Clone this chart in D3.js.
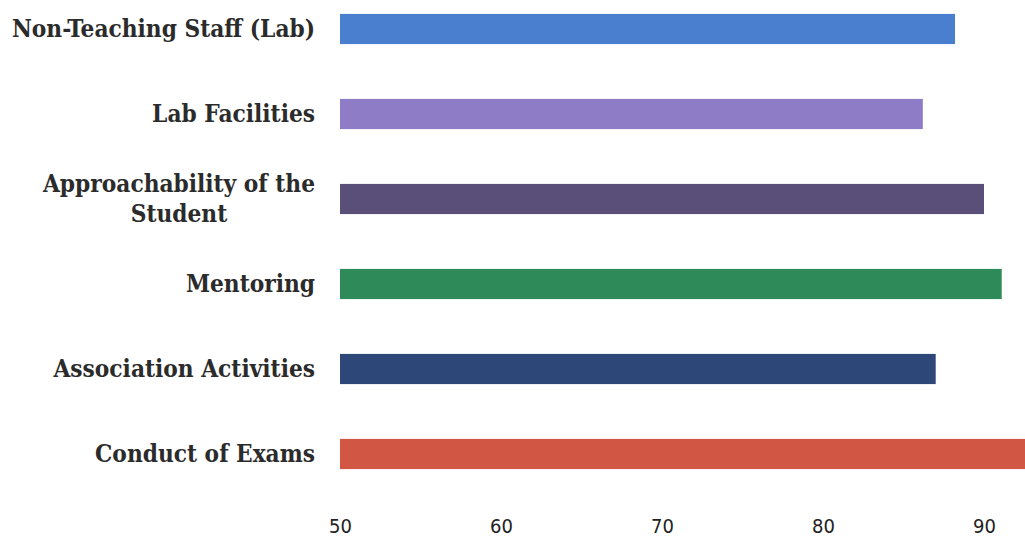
<!DOCTYPE html>
<html>
<head>
<meta charset="utf-8">
<script src="https://cdn.jsdelivr.net/npm/d3@7/dist/d3.min.js"></script>
<style>
  html, body { margin: 0; padding: 0; background: #ffffff; }
  svg { display: block; }
</style>
</head>
<body>
<svg id="chart" width="1025" height="538"></svg>
<script>
const categories = [
  "Non-Teaching Staff (Lab)",
  "Lab Facilities",
  "Approachability of the Student",
  "Mentoring",
  "Association Activities",
  "Conduct of Exams"
];
const labelLines = [
  ["Non-Teaching Staff (Lab)"],
  ["Lab Facilities"],
  ["Approachability of the", "Student"],
  ["Mentoring"],
  ["Association Activities"],
  ["Conduct of Exams"]
];
const values = [88.2, 86.2, 90.0, 91.1, 87.0, 94.0];
const colors = ["#4a7fcf", "#8e7cc6", "#5a4f78", "#2f8a5a", "#2d4878", "#d25644"];
const tickValues = [50, 60, 70, 80, 90];

const svg = d3.select("#chart");
const W = 1025, H = 538;

const x = d3.scaleLinear().domain([50, 90]).range([340, 984]);
const y = d3.scaleBand()
  .domain(categories)
  .range([-13.5, 496.5])
  .paddingInner(0.645)
  .paddingOuter(0.3225);

// bars
svg.append("g").selectAll("rect")
  .data(categories)
  .join("rect")
  .attr("x", x(50))
  .attr("y", d => y(d))
  .attr("width", (d, i) => Math.min(x(values[i]), W + 10) - x(50))
  .attr("height", y.bandwidth())
  .attr("fill", (d, i) => colors[i]);

// category labels
const labelRight = 315;
const lineH = 30;
const lg = svg.append("g")
  .attr("font-family", "'DejaVu Serif Condensed', 'DejaVu Serif', serif")
  .attr("font-weight", "bold")
  .attr("font-size", 24.2)
  .attr("fill", "#2b2b2b");

categories.forEach((c, i) => {
  const lines = labelLines[i];
  const cy = y(c) + y.bandwidth() / 2;
  const g = lg.append("g");
  const texts = lines.map((ln, j) =>
    g.append("text")
      .attr("y", cy + (j - (lines.length - 1) / 2) * lineH)
      .attr("dy", "0.35em")
      .text(ln)
  );
  const maxW = d3.max(texts, t => t.node().getComputedTextLength());
  const center = labelRight - maxW / 2;
  texts.forEach(t => t.attr("x", center).attr("text-anchor", "middle"));
});

// x axis (labels only)
const axis = d3.axisBottom(x).tickValues(tickValues).tickSize(0).tickPadding(0).tickFormat(d3.format("d"));
const ag = svg.append("g")
  .attr("transform", "translate(0,519)")
  .call(axis);
ag.select(".domain").remove();
ag.selectAll("text")
  .attr("font-family", "'Liberation Sans Narrow', 'DejaVu Sans Condensed', sans-serif")
  .attr("font-size", 20)
  .attr("fill", "#222")
  .attr("dy", "0.71em");
</script>
</body>
</html>
